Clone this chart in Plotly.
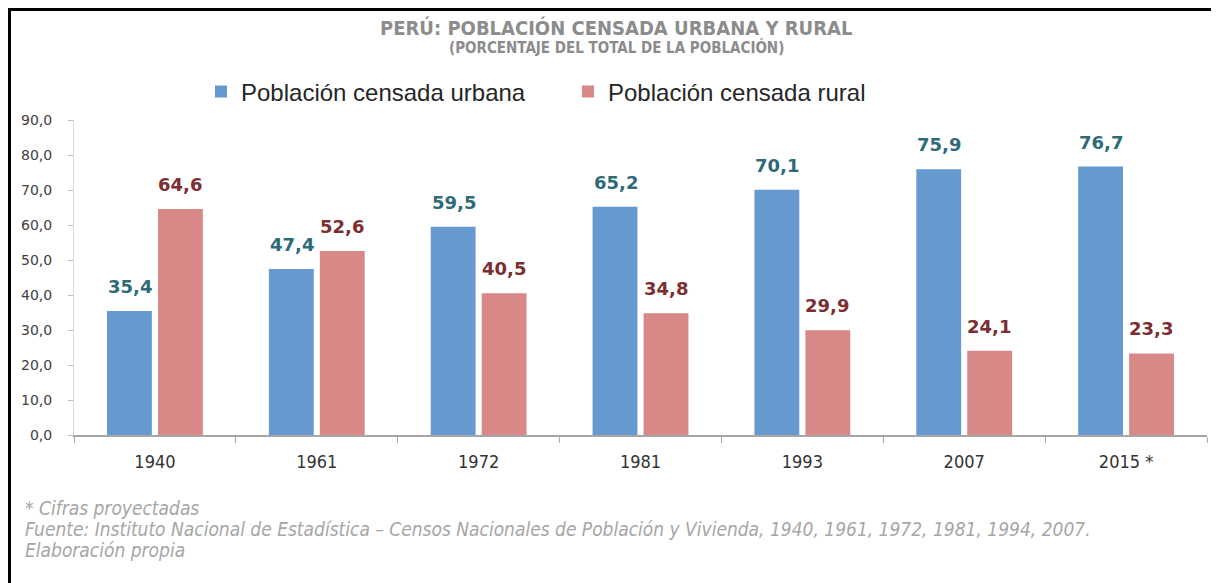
import plotly.graph_objects as go

years = ["1940", "1961", "1972", "1981", "1993", "2007", "2015 *"]
urbana = [35.4, 47.4, 59.5, 65.2, 70.1, 75.9, 76.7]
rural = [64.6, 52.6, 40.5, 34.8, 29.9, 24.1, 23.3]
ytick_vals = [0, 10, 20, 30, 40, 50, 60, 70, 80, 90]
ytick_text = ["0,0", "10,0", "20,0", "30,0", "40,0", "50,0", "60,0", "70,0", "80,0", "90,0"]

# page body has an 8px margin; figure is offset by it
OFF = 8
W, H = 1219 - OFF, 583 - OFF
L = 74 - OFF
T = 120 - OFF
R = W - (1207 - OFF)
B = H - (435 - OFF)
pw, ph = W - L - R, H - T - B

def px(xa):
    return (xa - OFF - L) / pw

def py(ya):
    return (H - B - (ya - OFF)) / ph

BLUE = "#6699d0"
RED = "#d88886"
TEAL = "#2f6a79"
DRED = "#7b2e31"
NARROW = "DejaVu Sans Condensed, Liberation Sans Narrow, sans-serif"

fig = go.Figure()
fig.add_bar(x=years, y=urbana, name="Población censada urbana", marker_color=BLUE,
            marker_line_width=0)
fig.add_bar(x=years, y=rural, name="Población censada rural", marker_color=RED,
            marker_line_width=0)

def fmt(v):
    return f"{v:.1f}".replace(".", ",")

ann = []
for i, (u, r) in enumerate(zip(urbana, rural)):
    ann.append(dict(x=i, y=u, xref="x", yref="y", text=fmt(u), showarrow=False, xshift=-25, yshift=12,
                    yanchor="bottom", font=dict(family="DejaVu Sans", size=18, color=TEAL, weight="bold")))
    ann.append(dict(x=i, y=r, xref="x", yref="y", text=fmt(r), showarrow=False, xshift=25, yshift=12,
                    yanchor="bottom", font=dict(family="DejaVu Sans", size=18, color=DRED, weight="bold")))

ann.append(dict(xref="paper", yref="paper", x=px(616), y=py(28), text="<b>PERÚ: POBLACIÓN CENSADA URBANA Y RURAL</b>",
                showarrow=False, xanchor="center", yanchor="middle",
                font=dict(family=NARROW, size=20, color="#8c8c8c")))
ann.append(dict(xref="paper", yref="paper", x=px(616), y=py(48), text="<b>(PORCENTAJE DEL TOTAL DE LA POBLACIÓN)</b>",
                showarrow=False, xanchor="center", yanchor="middle",
                font=dict(family=NARROW, size=15, color="#8c8c8c")))
foot = ["<i>* Cifras proyectadas</i>",
        "<i>Fuente: Instituto Nacional de Estadística – Censos Nacionales de Población y Vivienda, 1940, 1961, 1972, 1981, 1994, 2007.</i>",
        "<i>Elaboración propia</i>"]
for t, yy in zip(foot, [508, 529, 550]):
    ann.append(dict(xref="paper", yref="paper", x=px(23), y=py(yy), text=t, showarrow=False,
                    xanchor="left", yanchor="middle",
                    font=dict(family=NARROW, size=19, color="#a6a6a6")))

shapes = [
    dict(type="line", xref="paper", yref="paper", x0=px(OFF), x1=px(1219), y0=py(OFF + 1.5), y1=py(OFF + 1.5),
         line=dict(color="black", width=3)),
    dict(type="line", xref="paper", yref="paper", x0=px(OFF + 1.5), x1=px(OFF + 1.5), y0=py(OFF), y1=py(583),
         line=dict(color="black", width=3)),
]

fig.update_layout(
    width=W, height=H,
    margin=dict(l=L, r=R, t=T, b=B),
    paper_bgcolor="white", plot_bgcolor="white",
    barmode="group", bargap=0.37, bargroupgap=0.12,
    showlegend=True,
    legend=dict(orientation="h", x=px(201), xanchor="left", y=py(92), yanchor="middle",
                font=dict(family="Liberation Sans, sans-serif", size=24, color="#262626"),
                itemwidth=30, traceorder="normal", entrywidth=322, entrywidthmode="pixels"),
    annotations=ann,
    shapes=shapes,
    xaxis=dict(type="category", showgrid=False, showline=True, linecolor="#a6a6a6", linewidth=1.5,
               ticks="outside", tickson="boundaries", ticklen=6, tickcolor="#a6a6a6",
               tickfont=dict(family=NARROW, size=18, color="#333333"), ticklabelstandoff=10),
    yaxis=dict(range=[0, 90], tickvals=ytick_vals, ticktext=ytick_text, showgrid=False,
               showline=True, linecolor="#d9d9d9", linewidth=1, ticks="outside", ticklen=5,
               tickcolor="#bfbfbf", zeroline=False,
               tickfont=dict(family="DejaVu Sans", size=14, color="#404040"), ticklabelstandoff=13),
)

fig.write_html("out.html")
